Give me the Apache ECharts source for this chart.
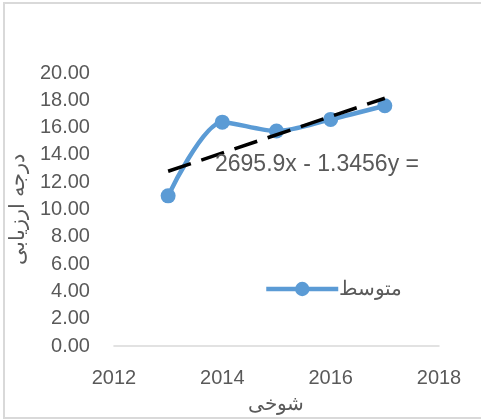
<!DOCTYPE html>
<html>
<head>
<meta charset="utf-8">
<script src="https://cdn.jsdelivr.net/npm/echarts@6/dist/echarts.min.js"></script>
<style>
  html, body { margin: 0; padding: 0; background: #fff; }
  #main { width: 481px; height: 419px; }
</style>
</head>
<body>
<div id="main"></div>
<script>
  // data
  var years = [2013, 2014, 2015, 2016, 2017];
  var avgValues = [11.0, 16.4, 15.75, 16.6, 17.6];
  var trendYears = [2013, 2017];
  var trendValues = [12.8, 18.15];
  var seriesName = 'متوسط';
  var xTitle = 'شوخی';
  var yTitle = 'درجه ارزیابی';
  var equationText = '2695.9x - 1.3456y =';

  var myChart = echarts.init(document.getElementById('main'));

  var pairs = function (xs, ys) {
    var out = [];
    for (var i = 0; i < xs.length; i++) {
      out.push([xs[i], ys[i]]);
    }
    return out;
  };

  var option = {
    backgroundColor: '#fff',
    animation: false,
    textStyle: { fontFamily: 'Liberation Sans' },
    grid: { left: 109, right: 42, top: 73, bottom: 72 },
    legend: {
      data: [seriesName],
      left: 259,
      top: 274,
      itemWidth: 72,
      itemHeight: 18,
      itemGap: 4,
      lineStyle: { width: 4.5 },
      textStyle: { color: '#595959', fontSize: 20, fontFamily: 'Noto Sans', padding: [0, 0, 0, -4] }
    },
    xAxis: {
      type: 'value',
      min: 2012,
      max: 2018,
      interval: 2,
      name: xTitle,
      nameLocation: 'middle',
      nameGap: 48,
      nameTextStyle: { color: '#595959', fontSize: 20, fontFamily: 'Noto Sans' },
      axisLine: { show: true, lineStyle: { color: '#d9d9d9', width: 1.5 } },
      axisTick: { show: false },
      splitLine: { show: false },
      axisLabel: { color: '#595959', fontSize: 20, margin: 22, formatter: function (v) { return String(v); } }
    },
    yAxis: {
      type: 'value',
      min: 0,
      max: 20,
      interval: 2,
      name: yTitle,
      nameLocation: 'middle',
      nameGap: 80,
      nameRotate: 90,
      nameTextStyle: { color: '#595959', fontSize: 21, fontFamily: 'Noto Sans' },
      axisLine: { show: false },
      axisTick: { show: false },
      splitLine: { show: false },
      axisLabel: {
        color: '#595959',
        fontSize: 20,
        margin: 24,
        formatter: function (v) { return v.toFixed(2); }
      }
    },
    graphic: [
      {
        type: 'rect',
        shape: { x: 4, y: 3, width: 490, height: 415 },
        style: { fill: 'none', stroke: '#d9d9d9', lineWidth: 2 },
        z: -1
      },
      {
        type: 'text',
        left: 215,
        top: 153,
        style: { text: equationText, fill: '#595959', fontSize: 23, fontFamily: 'Liberation Sans' },
        z: 10
      }
    ],
    series: [
      {
        name: seriesName,
        type: 'line',
        smooth: 0.28,
        data: pairs(years, avgValues),
        symbol: 'circle',
        symbolSize: 15,
        lineStyle: { color: '#5b9bd5', width: 4.5 },
        itemStyle: { color: '#5b9bd5' },
        z: 2
      },
      {
        name: 'trend',
        type: 'line',
        data: pairs(trendYears, trendValues),
        symbol: 'none',
        lineStyle: { color: '#000', width: 3.5, type: [24, 11] },
        silent: true,
        z: 3
      }
    ]
  };

  myChart.setOption(option);
</script>
</body>
</html>
